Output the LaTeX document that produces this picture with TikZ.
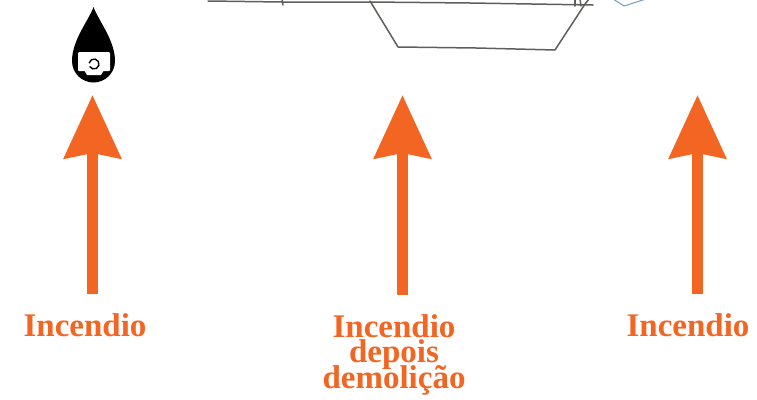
\documentclass[tikz,border=0pt]{standalone}
\usepackage{fontspec}
\setmainfont{Liberation Serif}
\usetikzlibrary{arrows.meta}
\definecolor{fireorange}{HTML}{F26522}
\definecolor{pencil}{HTML}{5E5E5A}
\definecolor{sketchblue}{HTML}{6E9CC0}
\tikzset{
  uparrow/.style={draw=fireorange, line width=11pt,
    -{Stealth[length=63pt, width=56pt, inset=5pt, fill=fireorange]}},
  firelabel/.style={text=fireorange, font=\bfseries\fontsize{33}{25.5}\selectfont,
    align=center, inner sep=0pt, anchor=base,
    execute at begin node={\lineskiplimit=-100pt\lineskip=0pt}},
  sketch/.style={draw=pencil, line width=1.5pt, line cap=round, line join=round},
}
\begin{document}
\begin{tikzpicture}[x=1pt, y=-1pt]
  \useasboundingbox (0,0) rectangle (757,399);
  \fill[white] (0,0) rectangle (757,399);

  % pencil section of the building
  \draw[sketch] (208,1) -- (282,2) -- (370,2) -- (470,3) -- (593,5);
  \draw[sketch] (282,-1) -- (283,5);
  \draw[sketch] (370,1) -- (398,47) -- (476,48) -- (555,50) -- (585,4) -- (589,-1);
  \draw[sketch] (575,-1) -- (575,6);
  \draw[sketch] (580,-1) -- (581,6);
  \draw[draw=sketchblue, line width=1pt, line join=round] (613,-1) -- (624,6) -- (646,-1);

  % fuel drop pictogram
  \fill[black] (93.5,7) .. controls (89,20) and (72,40) .. (72,61)
    arc[start angle=180, end angle=0, radius=21.5]
    .. controls (115,40) and (98,20) .. (93.5,7) -- cycle;
  \fill[white, rounded corners=1pt] (78,52) rectangle (110,71);
  \fill[white] (84,70) -- (104,70) -- (101,75) -- (87,75) -- cycle;
  \draw[black, line width=1.4pt] (94,64) ++(150:5) arc[start angle=150, end angle=-170, radius=5];

  % labels
  \node[firelabel] (lab1) at (85,336) {Incendio};
  \node[firelabel] (lab2) at (394,388) {Incendio\\depois\\demolição};
  \node[firelabel] (lab3) at (688,336) {Incendio};

  % arrows
  \coordinate (a1b) at (92.5,294);  \coordinate (a1t) at (92.5,95);
  \coordinate (a2b) at (402.5,295); \coordinate (a2t) at (402.5,95);
  \coordinate (a3b) at (697.5,294); \coordinate (a3t) at (697.5,95);
  \draw[uparrow] (a1b) -- (a1t);
  \draw[uparrow] (a2b) -- (a2t);
  \draw[uparrow] (a3b) -- (a3t);
\end{tikzpicture}
\end{document}
